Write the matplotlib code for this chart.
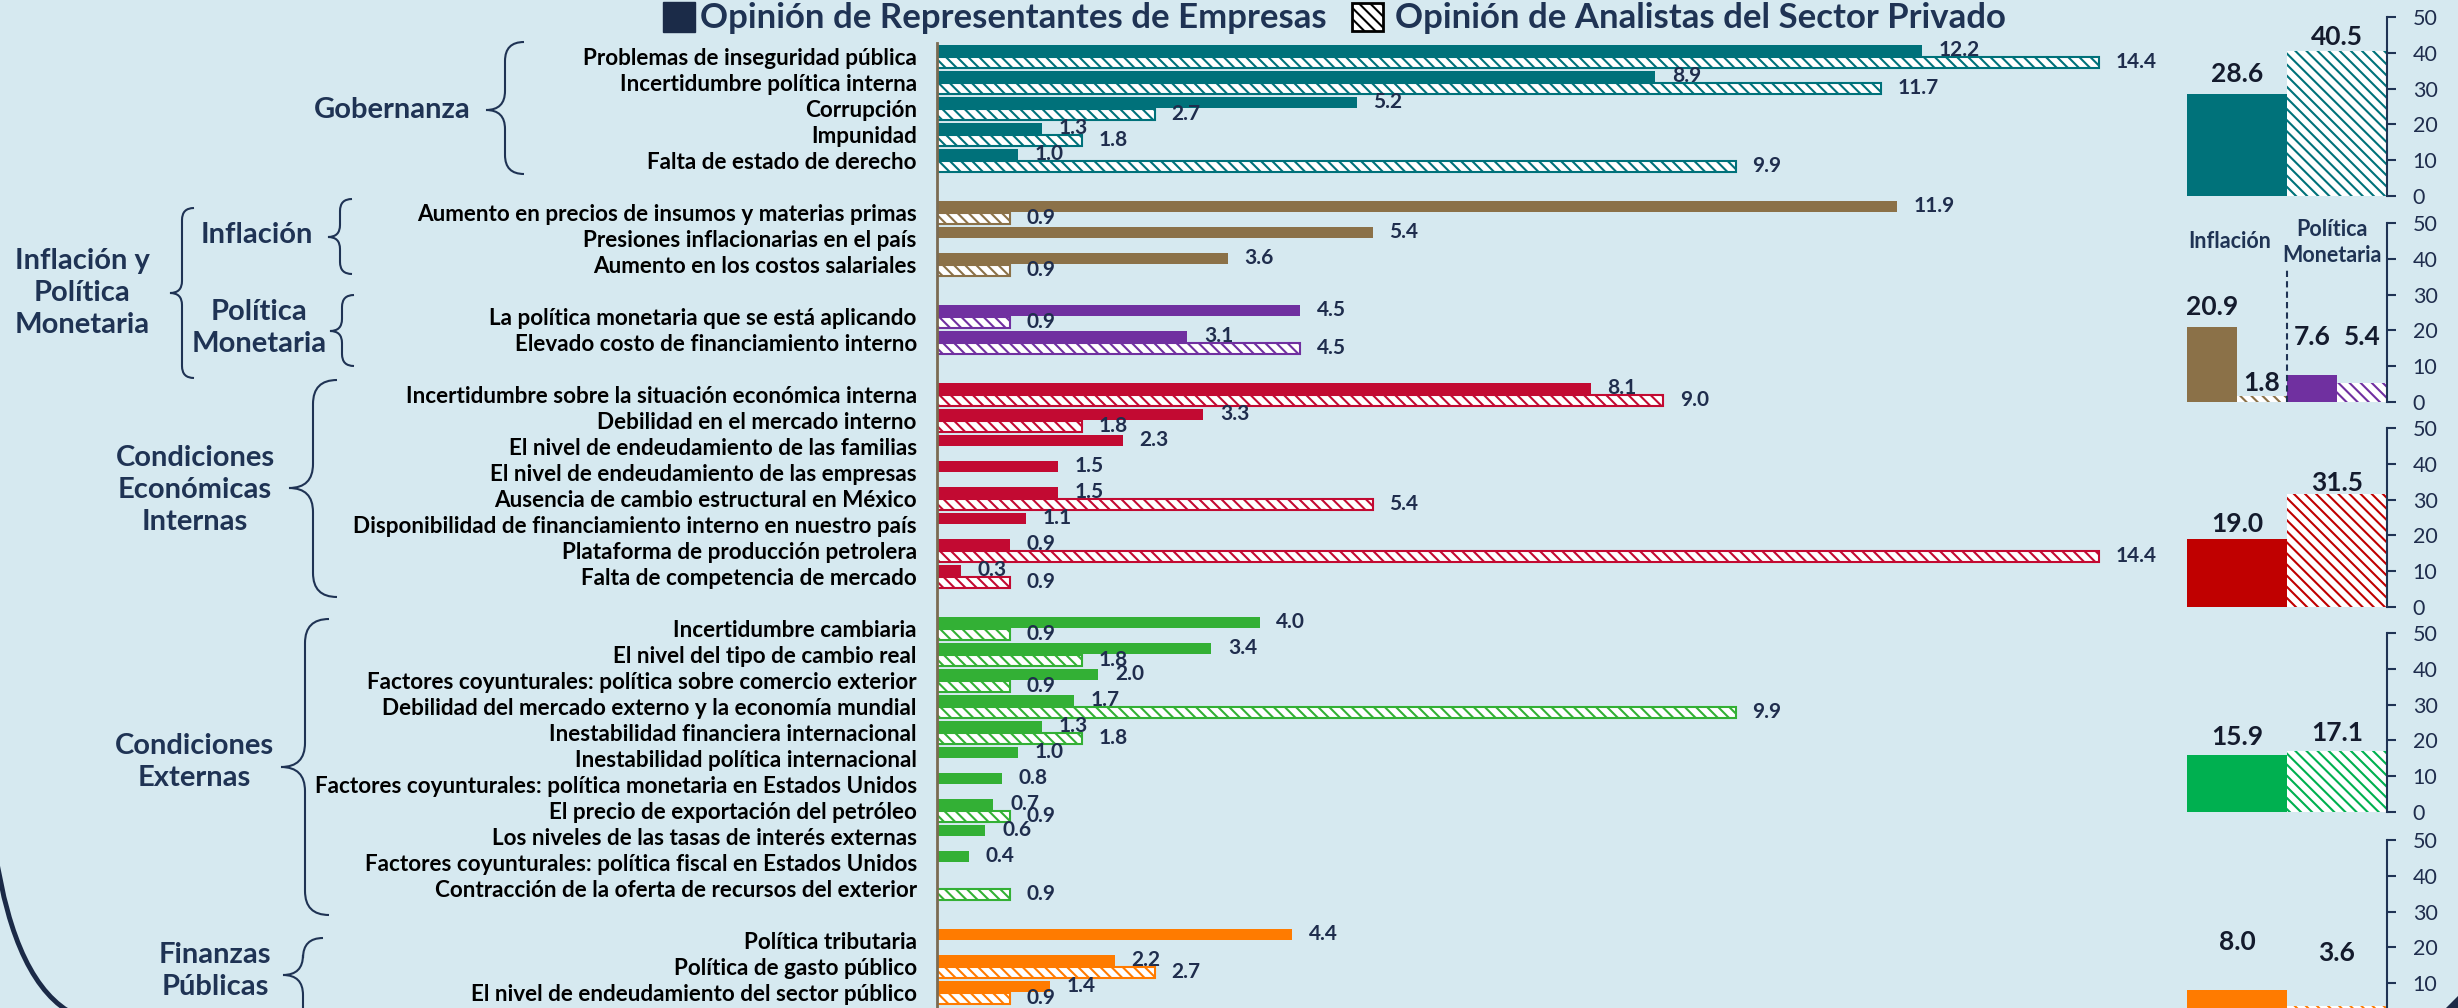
import numpy as np
import matplotlib.pyplot as plt
from matplotlib.path import Path
from matplotlib.patches import PathPatch, Rectangle, Polygon

W, H = 2458, 1008
BG = '#D6E9F0'
NAVY = '#1F3354'
NUM = '#1F2D4D'

plt.rcParams['font.family'] = ['Lato', 'DejaVu Sans']
plt.rcParams['hatch.linewidth'] = 1.5

# ---- data -------------------------------------------------------------
gob_labels = ['Problemas de inseguridad pública', 'Incertidumbre política interna',
              'Corrupción', 'Impunidad', 'Falta de estado de derecho']
gob_emp = [12.2, 8.9, 5.2, 1.3, 1.0]
gob_ana = [14.4, 11.7, 2.7, 1.8, 9.9]

inf_labels = ['Aumento en precios de insumos y materias primas',
              'Presiones inflacionarias en el país', 'Aumento en los costos salariales']
inf_emp = [11.9, 5.4, 3.6]
inf_ana = [0.9, None, 0.9]

pm_labels = ['La política monetaria que se está aplicando',
             'Elevado costo de financiamiento interno']
pm_emp = [4.5, 3.1]
pm_ana = [0.9, 4.5]

cei_labels = ['Incertidumbre sobre la situación económica interna',
              'Debilidad en el mercado interno',
              'El nivel de endeudamiento de las familias',
              'El nivel de endeudamiento de las empresas',
              'Ausencia de cambio estructural en México',
              'Disponibilidad de financiamiento interno en nuestro país',
              'Plataforma de producción petrolera',
              'Falta de competencia de mercado']
cei_emp = [8.1, 3.3, 2.3, 1.5, 1.5, 1.1, 0.9, 0.3]
cei_ana = [9.0, 1.8, None, None, 5.4, None, 14.4, 0.9]

ce_labels = ['Incertidumbre cambiaria', 'El nivel del tipo de cambio real',
             'Factores coyunturales: política sobre comercio exterior',
             'Debilidad del mercado externo y la economía mundial',
             'Inestabilidad financiera internacional',
             'Inestabilidad política internacional',
             'Factores coyunturales: política monetaria en Estados Unidos',
             'El precio de exportación del petróleo',
             'Los niveles de las tasas de interés externas',
             'Factores coyunturales: política fiscal en Estados Unidos',
             'Contracción de la oferta de recursos del exterior']
ce_emp = [4.0, 3.4, 2.0, 1.7, 1.3, 1.0, 0.8, 0.7, 0.6, 0.4, None]
ce_ana = [0.9, 1.8, 0.9, 9.9, 1.8, None, None, 0.9, None, None, 0.9]

fp_labels = ['Política tributaria', 'Política de gasto público',
             'El nivel de endeudamiento del sector público']
fp_emp = [4.4, 2.2, 1.4]
fp_ana = [None, 2.7, 0.9]

# totals by group (right panels)
tot_emp = [28.6, 20.9, 7.6, 19.0, 15.9, 8.0]
tot_ana = [40.5, 1.8, 5.4, 31.5, 17.1, 3.6]

legend_labels = ['Opinión de Representantes de Empresas',
                 'Opinión de Analistas del Sector Privado']

# ---- styles -----------------------------------------------------------
bar_colors = ['#00717A', '#8B7148', '#7030A0', '#C20A32', '#33B035', '#FF7B00']
tot_colors = ['#00727A', '#8B7148', '#7030A0', '#C00000', '#00B050', '#FF7B00']
HATCH = '\\\\\\'

fig = plt.figure(figsize=(W / 100, H / 100), dpi=100, facecolor=BG)


def px_axes(x0, y0, x1, y1):
    return fig.add_axes([x0 / W, 1 - y1 / H, (x1 - x0) / W, (y1 - y0) / H])


over = px_axes(0, 0, W, H)
over.set_xlim(0, W)
over.set_ylim(H, 0)
over.axis('off')

# ---- main bars --------------------------------------------------------
ax = px_axes(937, 43, 937 + 80.7 * 15, H)
ax.set_facecolor('none')
ax.set_xlim(0, 15)
ax.set_ylim(36.604, -0.5115)

groups = [(gob_labels, gob_emp, gob_ana), (inf_labels, inf_emp, inf_ana),
          (pm_labels, pm_emp, pm_ana), (cei_labels, cei_emp, cei_ana),
          (ce_labels, ce_emp, ce_ana), (fp_labels, fp_emp, fp_ana)]

ticks, tick_labels = [], []
k = 0
for (labels, emp, ana), col in zip(groups, bar_colors):
    for lab, e, a in zip(labels, emp, ana):
        ticks.append(k)
        tick_labels.append(lab)
        if e is not None:
            ax.barh(k - 0.225, e, height=0.42, color=col)
            ax.annotate(f'{e:.1f}', xy=(e, k - 0.225), xytext=(12, 0),
                        textcoords='offset points', va='center', ha='left',
                        fontsize=15, fontweight='bold', color=NUM)
        if a is not None:
            ax.barh(k + 0.225, a, height=0.42, facecolor='white', edgecolor=col,
                    hatch=HATCH, linewidth=1.5)
            ax.annotate(f'{a:.1f}', xy=(a, k + 0.225), xytext=(12, 0),
                        textcoords='offset points', va='center', ha='left',
                        fontsize=15, fontweight='bold', color=NUM)
        k += 1
    k += 1

ax.set_yticks(ticks, tick_labels)
ax.tick_params(axis='y', length=0, pad=14.5, labelsize=16.2, labelcolor='black')
for lab in ax.get_yticklabels():
    lab.set_fontweight('bold')
ax.set_xticks([])
for s in ['top', 'right', 'bottom']:
    ax.spines[s].set_visible(False)
ax.spines['left'].set_color('#7B6B52')
ax.spines['left'].set_linewidth(2)

# ---- right panels -----------------------------------------------------
panel_rows = [(17, 196), (223, 402), (428, 607), (633, 812), (840, 1019)]
label_lift = [[20, 14], [20, 12.6, 38, 46], [15, 11], [18, 18], [48, 53]]
panel_vals = [[(tot_emp[0], tot_ana[0], tot_colors[0])],
              [(tot_emp[1], tot_ana[1], tot_colors[1]),
               (tot_emp[2], tot_ana[2], tot_colors[2])],
              [(tot_emp[3], tot_ana[3], tot_colors[3])],
              [(tot_emp[4], tot_ana[4], tot_colors[4])],
              [(tot_emp[5], tot_ana[5], tot_colors[5])]]

for i, ((top, bot), vals, lifts) in enumerate(zip(panel_rows, panel_vals, label_lift)):
    pax = px_axes(2187, top, 2387, bot)
    pax.set_facecolor('none')
    pax.set_xlim(-0.5, 1.5)
    pax.set_ylim(0, 50)
    n = len(vals) * 2
    w = 2.0 / n
    xs = -0.5 + w / 2 + w * np.arange(n)
    heights, colors, hatched = [], [], []
    for e, a, c in vals:
        heights += [e, a]
        colors += [c, c]
        hatched += [False, True]
    for x, hgt, c, hat, lift in zip(xs, heights, colors, hatched, lifts):
        if hat:
            pax.bar(x, hgt, width=w, facecolor='white', edgecolor=c,
                    hatch=HATCH, linewidth=0)
        else:
            pax.bar(x, hgt, width=w, color=c)
        pax.annotate(f'{hgt:.1f}', xy=(x, hgt), xytext=(0, lift * 0.72),
                     textcoords='offset points', ha='center', va='center',
                     fontsize=19, fontweight='bold', color='#141B2D',
                     annotation_clip=False)
    if len(vals) == 2:
        pax.vlines(0.5, 0, 37, colors=NAVY, linestyles=(0, (3, 2)), linewidth=1.5)
        pax.text(-0.07, 44.7, 'Inflación', ha='center', va='center',
                 fontsize=15.5, fontweight='bold', color=NAVY)
        pax.text(0.95, 44.5, 'Política\nMonetaria', ha='center', va='center',
                 fontsize=15.5, fontweight='bold', color=NAVY, linespacing=1.3)
    pax.yaxis.tick_right()
    # the last panel is cut by the bottom edge of the picture
    pax.set_yticks(range(10 if i == 4 else 0, 51, 10))
    pax.set_xticks([])
    pax.tick_params(axis='y', direction='out', length=6.5, width=1.5, color=NAVY,
                    labelsize=15.5, labelcolor=NUM, pad=12)
    for s in ['top', 'left', 'bottom']:
        pax.spines[s].set_visible(False)
    pax.spines['right'].set_color(NAVY)
    pax.spines['right'].set_linewidth(1.5)


# ---- braces and group labels -----------------------------------------
def brace(xm, d, y_top, y_tip, y_bot):
    r = d
    verts = [(xm + d, y_top), (xm, y_top), (xm, y_top + r),
             (xm, y_tip - r), (xm, y_tip), (xm - d, y_tip),
             (xm, y_tip), (xm, y_tip + r),
             (xm, y_bot - r), (xm, y_bot), (xm + d, y_bot)]
    codes = [Path.MOVETO, Path.CURVE3, Path.CURVE3,
             Path.LINETO, Path.CURVE3, Path.CURVE3,
             Path.CURVE3, Path.CURVE3,
             Path.LINETO, Path.CURVE3, Path.CURVE3]
    over.add_patch(PathPatch(Path(verts, codes), fill=False, edgecolor=NAVY,
                             linewidth=1.5))


brace(505, 19, 42, 110, 174)
brace(182, 12, 208, 293, 378)
brace(340, 12, 199, 237, 274)
brace(342, 12, 295, 331, 366)
brace(313, 24, 380, 488, 597)
brace(305, 24, 619, 767, 915)
brace(303, 20, 938, 975, 1080)

gfont = dict(ha='center', va='center', fontsize=21, fontweight='bold',
             color=NAVY, linespacing=1.3)
over.text(392, 110, 'Gobernanza', **gfont)
over.text(82, 293, 'Inflación y\nPolítica\nMonetaria', **gfont)
over.text(257, 235, 'Inflación', **gfont)
over.text(259, 328, 'Política\nMonetaria', **gfont)
over.text(195, 490, 'Condiciones\nEconómicas\nInternas', **gfont)
over.text(194, 762, 'Condiciones\nExternas', **gfont)
over.text(215, 971, 'Finanzas\nPúblicas', **gfont)

# ---- legend -----------------------------------------------------------
over.add_patch(Rectangle((663, 2), 32, 30, facecolor='#1B2B48', edgecolor='#1B2B48'))
over.add_patch(Rectangle((1352, 3), 31, 28, facecolor='white', edgecolor='black',
                         hatch=HATCH, linewidth=2))
over.text(700, 28, legend_labels[0], ha='left', va='baseline', fontsize=25,
          fontweight='bold', color=NAVY)
over.text(1395, 28, legend_labels[1], ha='left', va='baseline', fontsize=25,
          fontweight='bold', color=NAVY)

# ---- frame decorations ------------------------------------------------
arc = Path([(-5, 850), (15, 985), (75, 1015)], [Path.MOVETO, Path.CURVE3, Path.CURVE3])
over.add_patch(PathPatch(arc, fill=False, edgecolor='#1B2A47', linewidth=3.5))
over.add_patch(Polygon([(2446, 1008), (2458, 996), (2458, 1008)], closed=True,
                       facecolor='#1B2A47', edgecolor='none'))

fig.savefig('out.png', dpi=100, facecolor=BG)
